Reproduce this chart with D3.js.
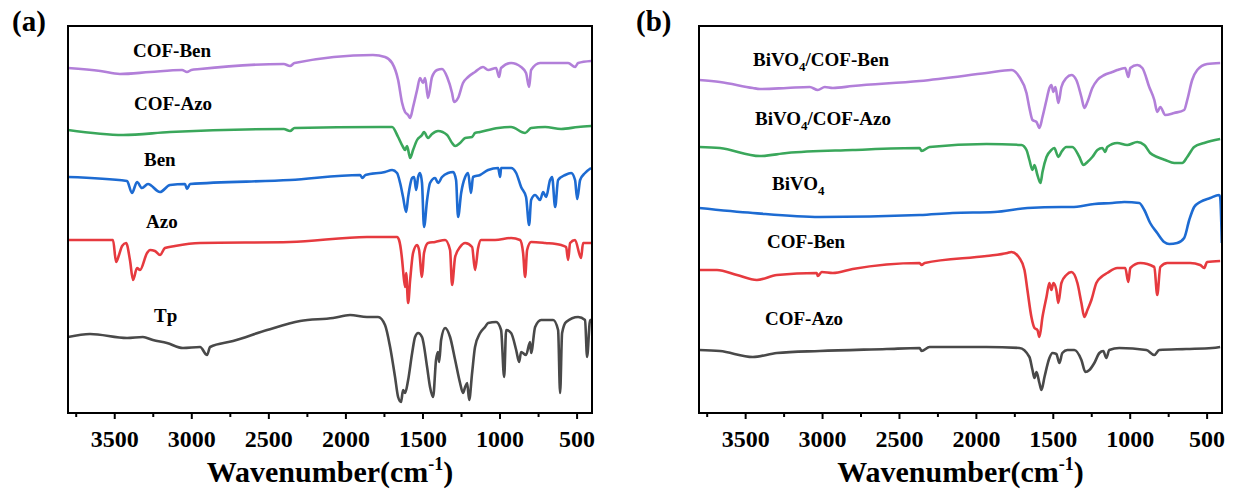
<!DOCTYPE html>
<html>
<head>
<meta charset="utf-8">
<script src="https://cdn.jsdelivr.net/npm/d3@7"></script>
<style>
  body { margin: 0; background: #fff; }
  svg text { font-family: "Liberation Serif", "Times New Roman", serif; font-weight: bold; fill: #000; }
</style>
</head>
<body>
<svg id="chart" width="1235" height="491"></svg>
<script>
// FTIR spectra, [wavenumber cm-1, transmittance a.u. (stacked offset)]

// panel (a)
var cofBenA = [[3800,345],[3590,342],[3463,339],[3268,341],[3060,343],[3028,341],[3000,343],[2943,344],[2400,349],[2359,347],[2330,350],[1821,358],[1743,356],[1697,350],[1658,333],[1632,310],[1613,301],[1593,298],[1580,295],[1561,306],[1535,323],[1516,335],[1496,330],[1483,335],[1464,315],[1438,336],[1405,343],[1373,344],[1340,336],[1308,320],[1295,311],[1269,315],[1237,330],[1204,336],[1159,341],[1107,346],[1074,343],[1022,345],[1003,336],[990,345],[925,350],[860,346],[828,340],[808,326],[795,343],[737,350],[639,350],[555,350],[510,346],[490,350],[406,352]]
var cofAzoA = [[3800,283],[3443,278],[3138,281],[2400,284],[2359,282],[2330,285],[1775,286],[1697,286],[1658,276],[1626,266],[1613,263],[1600,267],[1580,255],[1561,263],[1535,273],[1503,278],[1490,281],[1464,275],[1438,279],[1399,282],[1340,278],[1308,270],[1288,267],[1256,270],[1223,275],[1178,276],[1159,280],[1126,281],[1009,285],[925,286],[834,280],[795,285],[704,286],[600,284],[490,286],[406,287]]
var benA = [[3800,236],[3417,232],[3385,220],[3352,231],[3320,225],[3281,229],[3203,221],[3138,228],[3041,229],[3028,224],[3008,229],[2359,233],[1905,238],[1890,235],[1870,238],[1743,241],[1697,243],[1665,240],[1645,230],[1626,216],[1606,201],[1593,216],[1567,235],[1554,236],[1541,223],[1528,236],[1516,240],[1503,230],[1490,186],[1470,213],[1451,230],[1418,235],[1399,230],[1373,236],[1334,240],[1301,241],[1282,233],[1269,196],[1249,220],[1223,236],[1204,240],[1185,220],[1172,236],[1126,238],[1074,243],[1009,245],[996,236],[990,245],[925,245],[892,240],[860,226],[828,216],[808,188],[795,213],[769,218],[737,213],[717,221],[698,216],[672,233],[659,236],[639,206],[620,233],[574,238],[535,240],[510,233],[496,214],[477,233],[445,240],[406,245]]
var azoA = [[3800,173],[3508,173],[3488,151],[3469,158],[3449,167],[3423,170],[3398,153],[3378,133],[3352,145],[3333,143],[3287,160],[3268,163],[3236,162],[3203,158],[3171,165],[3106,167],[2943,170],[2359,171],[1860,176],[1665,176],[1652,173],[1632,153],[1626,143],[1613,126],[1606,140],[1593,110],[1580,133],[1561,160],[1535,168],[1522,163],[1503,136],[1490,160],[1464,170],[1418,171],[1353,173],[1321,163],[1308,128],[1288,156],[1256,166],[1223,170],[1178,166],[1159,143],[1139,165],[1120,173],[1029,173],[925,175],[867,173],[847,160],[834,136],[821,163],[795,171],[704,170],[600,168],[568,166],[555,153],[542,170],[510,173],[471,155],[458,170],[406,170]]
var tpA = [[3800,76],[3657,79],[3417,75],[3314,76],[3249,73],[3158,70],[3054,65],[2943,66],[2898,58],[2878,66],[2729,72],[2508,83],[2294,92],[2080,95],[1970,98],[1860,96],[1788,96],[1743,88],[1710,66],[1678,36],[1658,16],[1639,11],[1626,23],[1613,20],[1593,33],[1567,60],[1548,76],[1528,80],[1503,76],[1470,46],[1451,26],[1431,16],[1412,53],[1399,61],[1392,51],[1379,73],[1353,85],[1321,76],[1288,53],[1256,30],[1237,20],[1223,26],[1210,30],[1197,13],[1178,40],[1159,66],[1126,80],[1094,86],[1074,90],[1022,91],[990,83],[970,36],[957,83],[925,80],[892,63],[873,51],[860,61],[828,58],[802,71],[795,60],[769,86],[730,93],[652,93],[620,83],[607,20],[594,80],[568,91],[490,96],[445,93],[432,56],[412,93],[404,93]]

// panel (b)
var bivBenB = [[3800,333],[3664,331],[3450,325],[3404,324],[3229,325],[3080,326],[3028,323],[2982,326],[2930,325],[2801,327],[2366,332],[1931,340],[1769,343],[1717,336],[1671,320],[1652,305],[1632,293],[1606,291],[1587,285],[1567,296],[1541,313],[1522,325],[1509,328],[1496,321],[1483,326],[1464,310],[1444,326],[1412,335],[1379,338],[1347,333],[1314,316],[1295,305],[1275,311],[1243,325],[1210,333],[1165,338],[1113,341],[1081,343],[1029,345],[1009,336],[996,345],[951,348],[918,345],[873,326],[840,313],[821,301],[801,306],[769,298],[711,300],[646,303],[626,313],[594,333],[561,343],[497,349],[412,350]]
var bivAzoB = [[3800,266],[3664,265],[3404,257],[3229,260],[2801,263],[2366,265],[2353,262],[2301,266],[1931,269],[1704,268],[1671,263],[1652,253],[1632,243],[1619,248],[1600,238],[1580,230],[1567,241],[1541,256],[1509,263],[1490,265],[1464,256],[1444,261],[1412,266],[1373,266],[1327,256],[1301,248],[1275,251],[1243,256],[1210,263],[1178,265],[1159,261],[1146,266],[1081,270],[1016,268],[951,271],[905,268],[867,260],[821,256],[769,253],[711,250],[659,250],[626,256],[581,266],[516,270],[412,274]]
var bivB = [[3800,205],[3450,200],[3015,196],[2366,198],[2152,200],[1879,201],[1665,205],[1444,206],[1379,206],[1230,209],[1113,210],[1035,211],[938,210],[905,203],[867,190],[821,180],[776,171],[743,169],[691,170],[646,175],[613,193],[581,206],[542,211],[477,215],[419,218],[412,216],[401,170]]
var cofBenB = [[3800,143],[3683,143],[3553,138],[3424,133],[3294,138],[3034,140],[3028,137],[3002,141],[2930,140],[2801,144],[2366,150],[2353,148],[2333,150],[1931,157],[1795,160],[1769,161],[1717,155],[1684,143],[1665,123],[1639,96],[1619,85],[1600,83],[1587,76],[1567,96],[1541,116],[1522,130],[1509,123],[1496,130],[1477,123],[1464,110],[1444,130],[1412,138],[1379,141],[1340,130],[1314,110],[1295,96],[1275,103],[1249,113],[1217,130],[1185,136],[1146,140],[1081,145],[1029,145],[1009,131],[996,145],[931,150],[840,146],[821,118],[801,146],[756,150],[607,150],[542,148],[516,145],[497,151],[412,152]]
var cofAzoB = [[3800,63],[3664,62],[3450,56],[3294,60],[3015,62],[2580,64],[2366,65],[2353,62],[2301,66],[1931,66],[1717,65],[1652,56],[1632,43],[1619,35],[1606,41],[1587,30],[1574,23],[1554,36],[1522,55],[1502,60],[1477,59],[1457,50],[1438,60],[1405,63],[1360,63],[1314,53],[1288,41],[1262,43],[1230,50],[1197,60],[1172,62],[1152,55],[1133,63],[1068,65],[892,63],[840,58],[808,63],[633,64],[464,65],[412,66]]

var majorTicks = [3500, 3000, 2500, 2000, 1500, 1000, 500]
var minorTicks = [3750, 3250, 2750, 2250, 1750, 1250, 750]

var cPurple = "#b27fd9"
var cGreen = "#3aa75b"
var cBlue = "#1d6bd2"
var cRed = "#e63a3f"
var cGray = "#494949"

var svg = d3.select("#chart")

var panels = [{
  name: "a",
  tag: "(a)",
  tagX: 12,
  left: 68, right: 592, top: 26, bottom: 413,
  series: [
    { data: cofBenA, color: cPurple },
    { data: cofAzoA, color: cGreen },
    { data: benA, color: cBlue },
    { data: azoA, color: cRed },
    { data: tpA, color: cGray }
  ],
  labels: [
    { text: "COF-Ben", x: 133, y: 57 },
    { text: "COF-Azo", x: 134, y: 110 },
    { text: "Ben", x: 144, y: 166 },
    { text: "Azo", x: 146, y: 228 },
    { text: "Tp", x: 154, y: 322 }
  ]
}, {
  name: "b",
  tag: "(b)",
  tagX: 636,
  left: 699, right: 1222, top: 26, bottom: 413,
  series: [
    { data: bivBenB, color: cPurple },
    { data: bivAzoB, color: cGreen },
    { data: bivB, color: cBlue },
    { data: cofBenB, color: cRed },
    { data: cofAzoB, color: cGray }
  ],
  labels: [
    { text: "BiVO|4|/COF-Ben", x: 753, y: 66 },
    { text: "BiVO|4|/COF-Azo", x: 755, y: 125 },
    { text: "BiVO|4", x: 772, y: 190 },
    { text: "COF-Ben", x: 767, y: 248 },
    { text: "COF-Azo", x: 765, y: 325 }
  ]
}]

panels.forEach(function (p) {
  var x = d3.scaleLinear().domain([3800, 400]).range([p.left, p.right])
  var y = d3.scaleLinear().domain([0, 387]).range([p.bottom, p.top])
  var g = svg.append("g")

  var clipId = "clip-" + p.name
  svg.append("clipPath").attr("id", clipId).append("rect")
    .attr("x", p.left).attr("y", p.top)
    .attr("width", p.right - p.left).attr("height", p.bottom - p.top)

  var line = d3.line()
    .curve(d3.curveMonotoneX)
    .x(function (d) { return x(d[0]) })
    .y(function (d) { return y(d[1]) })

  g.append("g").attr("clip-path", "url(#" + clipId + ")")
    .selectAll(".spec").data(p.series).enter().append("path")
    .attr("class", "spec")
    .attr("d", function (s) { return line(s.data) })
    .attr("fill", "none")
    .attr("stroke", function (s) { return s.color })
    .attr("stroke-width", 2.6)
    .attr("stroke-linejoin", "round")

  g.append("rect")
    .attr("x", p.left).attr("y", p.top)
    .attr("width", p.right - p.left).attr("height", p.bottom - p.top)
    .attr("fill", "none")
    .attr("stroke", "#000")
    .attr("stroke-width", 2)

  var axMajor = g.append("g")
    .attr("transform", "translate(0," + p.bottom + ")")
    .call(d3.axisBottom(x).tickValues(majorTicks).tickSize(6).tickPadding(11).tickFormat(d3.format("d")))
  var axMinor = g.append("g")
    .attr("transform", "translate(0," + p.bottom + ")")
    .call(d3.axisBottom(x).tickValues(minorTicks).tickSize(4).tickFormat(""))
  ;[axMajor, axMinor].forEach(function (a) {
    a.attr("font-family", null).attr("font-size", null)
    a.select(".domain").remove()
    a.selectAll(".tick line").attr("stroke", "#000").attr("stroke-width", 2)
  })
  axMajor.selectAll(".tick text").style("font-size", "24px")

  var xl = g.append("text")
    .attr("x", (p.left + p.right) / 2)
    .attr("y", 482)
    .attr("text-anchor", "middle")
    .style("font-size", "30px")
  xl.append("tspan").text("Wavenumber(cm")
  xl.append("tspan").attr("dy", -12).style("font-size", "18px").text("-1")
  xl.append("tspan").attr("dy", 12).text(")")

  g.append("text")
    .attr("x", p.tagX).attr("y", 31)
    .style("font-size", "29px")
    .text(p.tag)

  p.labels.forEach(function (l) {
    var t = g.append("text").attr("x", l.x).attr("y", l.y).style("font-size", "19px")
    var parts = l.text.split("|")
    parts.forEach(function (s, i) {
      if (!s) return
      var sp = t.append("tspan").text(s)
      if (i % 2 == 1) {
        sp.style("font-size", "13px").attr("dy", 5)
      } else if (i > 0) {
        sp.attr("dy", -5)
      }
    })
  })
})
</script>
</body>
</html>
